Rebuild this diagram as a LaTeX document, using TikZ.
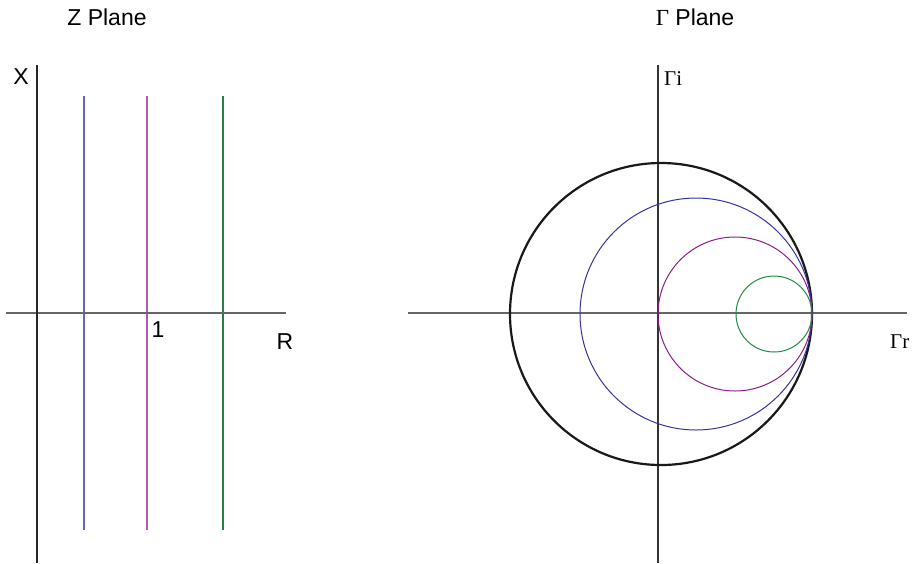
\documentclass[tikz,border=0pt]{standalone}
\usepackage{fontspec}
\setmainfont{Liberation Sans}
\newfontfamily\serifgamma{Liberation Serif}
\definecolor{axisgray}{HTML}{666666}
\definecolor{lineblue}{HTML}{6464C0}
\definecolor{linepurple}{HTML}{B058B8}
\definecolor{linegreen}{HTML}{2A7A4A}
\definecolor{circblue}{HTML}{34349A}
\definecolor{circpurple}{HTML}{8A1E8A}
\definecolor{circgreen}{HTML}{228A44}
\tikzset{
  axisline/.style={draw=axisgray, line width=1.3pt},
  mainaxis/.style={draw=black!85, line width=1.6pt},
  vaxis/.style={draw=black!80, line width=1.2pt},
  thinline/.style={line width=1.3pt},
  bigcirc/.style={draw=black!90, line width=2.2pt},
  smallcirc/.style={line width=1pt},
  lbl/.style={inner sep=0pt, font=\fontsize{23}{26}\selectfont},
  glbl/.style={inner sep=0pt, font=\fontsize{21}{24}\selectfont\serifgamma}
}
\begin{document}
\begin{tikzpicture}[x=1pt,y=-1pt]
\useasboundingbox (0,0) rectangle (917,563);
% ---- Z plane ----
\coordinate (zxl) at (6,313);
\coordinate (zxr) at (286,313);
\coordinate (zyt) at (37,65);
\coordinate (zyb) at (37,563);
\coordinate (b1) at (84,96);  \coordinate (b2) at (84,530);
\coordinate (p1) at (147,96); \coordinate (p2) at (147,530);
\coordinate (g1) at (223,96); \coordinate (g2) at (223,530);
\draw[thinline, lineblue] (b1) -- (b2);
\draw[thinline, linepurple] (p1) -- (p2);
\draw[thinline, linegreen] (g1) -- (g2);
\draw[axisline] (zxl) -- (zxr);
\draw[mainaxis] (zyt) -- (zyb);
\node[lbl] (ztitle) at (107,17) {Z Plane};
\node[lbl] (xlab) at (21,77) {X};
\node[lbl] (one) at (158,330) {1};
\node[lbl] (rlab) at (285,342) {R};
% ---- Gamma plane ----
\coordinate (gxl) at (408,313);
\coordinate (gxr) at (907,313);
\coordinate (gyt) at (658,65);
\coordinate (gyb) at (658,563);
\draw[axisline] (gxl) -- (gxr);
\draw[vaxis] (gyt) -- (gyb);
\draw[bigcirc] (661,314) circle[radius=151];
\draw[smallcirc, circblue] (696,314) circle[radius=116];
\draw[smallcirc, circpurple] (735,314) circle[radius=77];
\draw[smallcirc, circgreen] (774,314) circle[radius=38];
\node[lbl] (gtitle) at (695,17) {{\serifgamma Γ} Plane};
\node[glbl, anchor=west] (gilab) at (664,79) {Γi};
\node[glbl, anchor=west] (grlab) at (890,342) {Γr};
\end{tikzpicture}
\end{document}
